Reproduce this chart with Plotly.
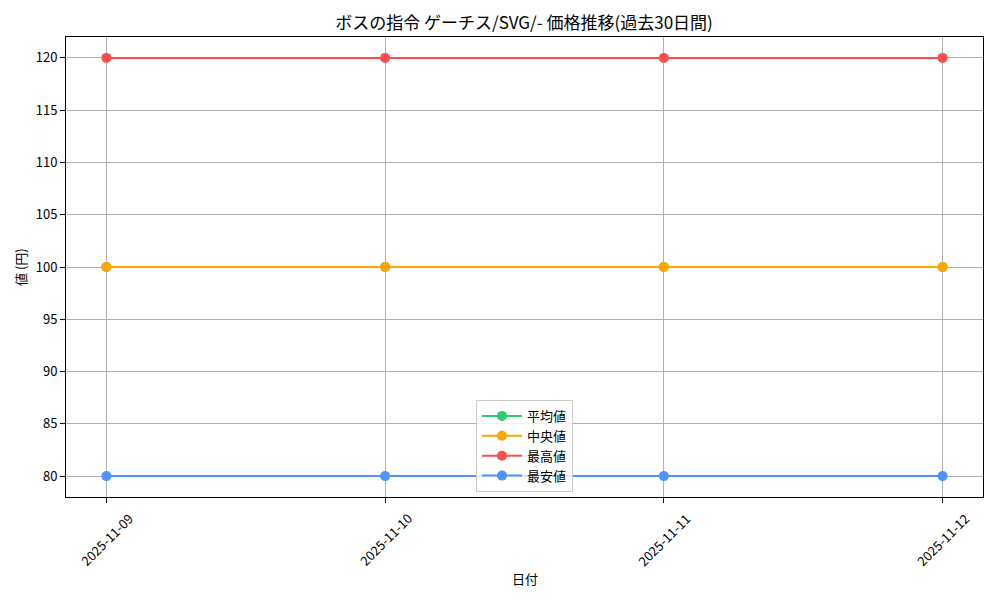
import plotly.graph_objects as go

# データ
dates = ["2025-11-09", "2025-11-10", "2025-11-11", "2025-11-12"]
avg_price = [100, 100, 100, 100]
median_price = [100, 100, 100, 100]
max_price = [120, 120, 120, 120]
min_price = [80, 80, 80, 80]

series_names = ["平均値", "中央値", "最高値", "最安値"]
series_colors = ["#2ecc71", "#ffa500", "#ff4d4d", "#4d94ff"]
y_ticks = [80, 85, 90, 95, 100, 105, 110, 115, 120]

FONT = "Noto Sans CJK JP, IPAexGothic, sans-serif"

fig = go.Figure()
for name, vals, color in zip(
    series_names, [avg_price, median_price, max_price, min_price], series_colors
):
    fig.add_trace(
        go.Scatter(
            x=dates,
            y=vals,
            name=name,
            mode="lines+markers",
            line=dict(color=color, width=2),
            marker=dict(color=color, size=10),
        )
    )

# 日付ラベル（matplotlib風に中央揃えで45度回転）
for d in dates:
    fig.add_annotation(
        x=d,
        y=0,
        xref="x",
        yref="paper",
        text=d,
        showarrow=False,
        textangle=-45,
        xanchor="center",
        yanchor="middle",
        yshift=-42,
        font=dict(family=FONT, size=13, color="black"),
    )

# 軸タイトル
fig.add_annotation(
    x=0.5, y=0, xref="paper", yref="paper", text="日付", showarrow=False,
    xanchor="center", yanchor="middle", yshift=-81,
    font=dict(family=FONT, size=13, color="black"),
)
fig.add_annotation(
    x=0, y=0.5, xref="paper", yref="paper", text="値 (円)", showarrow=False,
    textangle=-90, xanchor="center", yanchor="middle", xshift=-46,
    font=dict(family=FONT, size=13, color="black"),
)

fig.update_layout(
    width=1000,
    height=600,
    paper_bgcolor="white",
    plot_bgcolor="white",
    margin=dict(l=66, r=17, t=37, b=103, autoexpand=False),
    font=dict(family=FONT, size=13, color="black"),
    title=dict(
        text="ボスの指令 ゲーチス/SVG/- 価格推移(過去30日間)",
        x=0.524,
        xanchor="center",
        y=0.961,
        yanchor="middle",
        font=dict(family=FONT, size=17, color="black"),
    ),
    legend=dict(
        x=0.5,
        y=0.011,
        xanchor="center",
        yanchor="bottom",
        bgcolor="rgba(255,255,255,0.8)",
        bordercolor="#cccccc",
        borderwidth=1,
        font=dict(family=FONT, size=13),
        itemwidth=40,
        tracegroupgap=0,
    ),
    showlegend=True,
)

fig.update_xaxes(
    type="category",
    range=[-0.145, 3.145],
    showticklabels=False,
    ticks="outside",
    ticklen=5,
    tickcolor="black",
    showline=True,
    linecolor="black",
    linewidth=1,
    mirror=True,
    showgrid=True,
    gridcolor="#b0b0b0",
    gridwidth=1,
    automargin=False,
)
fig.update_yaxes(
    range=[78, 122],
    tickvals=y_ticks,
    ticks="outside",
    ticklen=5,
    tickcolor="black",
    tickfont=dict(family=FONT, size=13),
    showline=True,
    linecolor="black",
    linewidth=1,
    mirror=True,
    showgrid=True,
    gridcolor="#b0b0b0",
    gridwidth=1,
    zeroline=False,
    automargin=False,
)

fig.write_html(
    "out.html",
    config={"displayModeBar": False},
    post_script="document.body.style.margin='0';document.body.style.overflow='hidden';",
)
